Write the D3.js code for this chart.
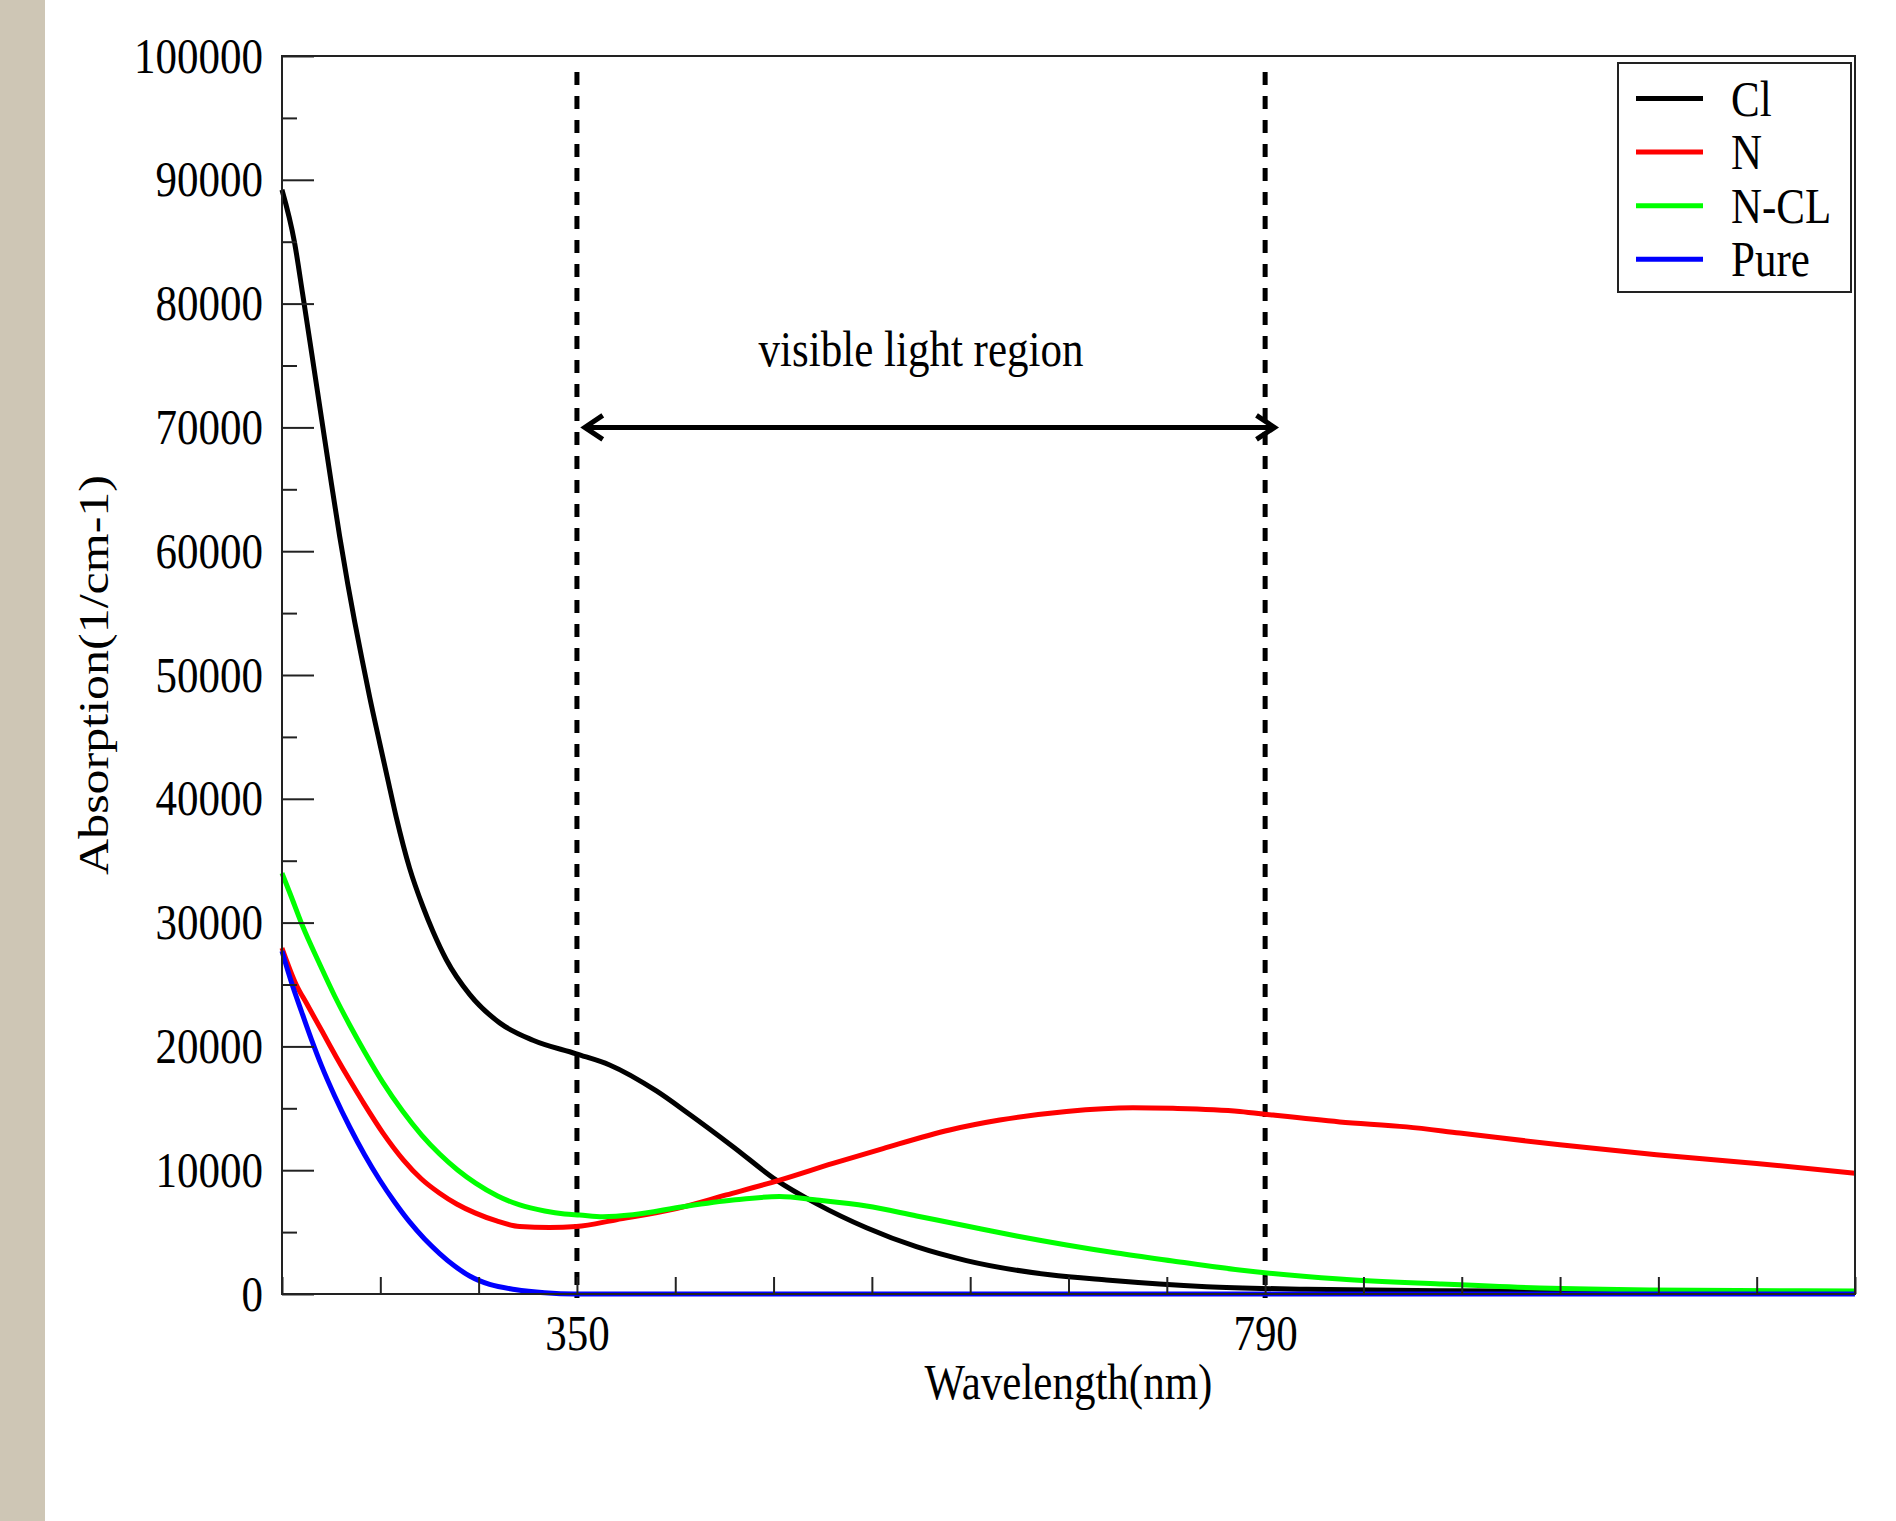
<!DOCTYPE html>
<html>
<head>
<meta charset="utf-8">
<script src="https://cdn.jsdelivr.net/npm/d3@7"></script>
<style>
    body { margin: 0; background: #fff; }
    #sidebar { position: absolute; left: 0; top: 0; width: 45px; height: 1521px; background: #cec6b5; }
    text { font-family: 'Liberation Serif', 'Times New Roman', serif; fill: #000; }
</style>
</head>
<body>
<div id="sidebar"></div>
<svg id="canvas" width="1896" height="1521" style="position:absolute;left:0;top:0"></svg>
<script>
// wavelength (nm) / absorption (1/cm)
let clWave = [161.4, 169.5, 174.6, 180.4, 186.8, 193.1, 198.3, 203.4, 207.9, 212.4, 217.5, 223.9, 229.0, 234.5, 243.0, 251.5, 257.9, 266.5, 281.4, 300.6, 321.9, 349.6, 370.9, 400.8, 422.1, 449.8, 477.5, 503.1, 535.1, 567.0, 599.0, 652.3, 688.5, 752.5, 816.4, 901.6, 948.3, 1050, 1167.1]
let clAbs = [89200, 84900, 80800, 76000, 70650, 65400, 61200, 57400, 54300, 51400, 48200, 44500, 41600, 38500, 34400, 31300, 29300, 27000, 24200, 21900, 20500, 19400, 18500, 16400, 14500, 11900, 9200, 7300, 5350, 3820, 2700, 1550, 1130, 590, 380, 270, 250, 180, 100]

let nWave = [161.4, 170.6, 177.0, 186.6, 196.1, 204.7, 213.2, 226.0, 239.1, 250.6, 262.0, 273.1, 284.8, 298.7, 313.4, 332.5, 349.6, 375.2, 413.6, 445.5, 479.6, 513.7, 545.7, 588.3, 620.3, 663.0, 705.5, 731.1, 773.8, 795.1, 837.7, 880.4, 914.4, 978.4, 1040.2, 1104.2, 1167.1]
let nAbs = [27950, 24960, 23500, 21320, 19150, 17280, 15510, 13000, 10820, 9290, 8160, 7270, 6550, 5900, 5450, 5370, 5450, 6000, 6900, 8000, 9200, 10550, 11750, 13250, 14050, 14750, 15050, 15000, 14750, 14450, 13900, 13500, 13000, 12050, 11250, 10550, 9750]

let nclWave = [161.4, 166.7, 174.6, 185.5, 195.1, 204.7, 214.3, 225.8, 238.5, 250.7, 262.2, 273.7, 285.2, 299.3, 313.4, 329.4, 342.1, 351.7, 366.6, 385.8, 417.8, 449.8, 479.5, 503.3, 535.2, 567.2, 599.2, 631.1, 663.1, 695.1, 730.9, 773.7, 837.7, 901.6, 965.6, 1035.9, 1167.1]
let nclAbs = [34000, 32310, 29720, 26650, 24070, 21730, 19550, 17120, 14780, 12840, 11310, 10020, 8960, 7920, 7190, 6700, 6460, 6380, 6250, 6400, 7050, 7590, 7870, 7590, 7110, 6300, 5490, 4690, 3960, 3310, 2670, 1940, 1210, 810, 490, 330, 240]

let pureWave = [161.4, 167.6, 174.0, 180.4, 186.8, 195.1, 204.7, 214.3, 223.9, 233.4, 243.0, 252.6, 262.2, 271.8, 281.4, 294.2, 310.2, 329.4, 348.5, 1167.1]
let pureAbs = [27700, 25120, 22780, 20510, 18410, 16000, 13490, 11230, 9210, 7430, 5820, 4440, 3270, 2260, 1450, 770, 370, 100, 0, 0]

let seriesNames = ['Cl', 'N', 'N-CL', 'Pure']
let seriesColors = ['#000000', '#ff0000', '#00ff00', '#0000ff']

let xDomain = [350 - 3 * 440 / 7, 790 + 6 * 440 / 7]
let xTickValues = d3.range(-3, 14).map(k => 350 + k * 440 / 7)
let xTickLabels = [350, 790]
let yMajorTicks = d3.range(0, 100001, 10000)
let yMinorTicks = d3.range(5000, 100000, 10000)

let visibleEdges = [350, 790]
let arrowRange = [355, 796]
let arrowLevel = 70000
let annotation = 'visible light region'

let margin = { left: 282, top: 56, width: 1573, height: 1238 }
let squash = 0.86

let canvas = d3.select('#canvas')
let plot = canvas.append('g').attr('transform', `translate(${margin.left},${margin.top})`)

let xScale = d3.scaleLinear().domain(xDomain).range([0, margin.width])
let yScale = d3.scaleLinear().domain([0, 100000]).range([margin.height, 0])

// dashed markers of the visible region (under the curves)
plot.selectAll('line.edge')
    .data(visibleEdges)
    .enter()
    .append('line')
    .attr('class', 'edge')
    .attr('x1', d => xScale(d))
    .attr('x2', d => xScale(d))
    .attr('y1', 16)
    .attr('y2', margin.height + 4)
    .attr('stroke', '#000')
    .attr('stroke-width', 5)
    .attr('stroke-dasharray', '13,11')

// curves
let seriesData = [
    d3.zip(clWave, clAbs),
    d3.zip(nWave, nAbs),
    d3.zip(nclWave, nclAbs),
    d3.zip(pureWave, pureAbs)
]
let line = d3.line()
    .x(d => xScale(d[0]))
    .y(d => yScale(d[1]))
    .curve(d3.curveMonotoneX)

plot.selectAll('path.series')
    .data(seriesData)
    .enter()
    .append('path')
    .attr('class', 'series')
    .attr('d', line)
    .attr('fill', 'none')
    .attr('stroke', (d, i) => seriesColors[i])
    .attr('stroke-width', 5)
    .attr('stroke-linejoin', 'round')

// axes
let xAxis = d3.axisBottom(xScale)
    .tickValues(xTickValues)
    .tickSize(-17)
    .tickPadding(21)
    .tickFormat(d => {
        let hit = xTickLabels.find(v => Math.abs(v - d) < 0.01)
        return hit === undefined ? '' : hit
    })
let xg = plot.append('g')
    .attr('transform', `translate(0,${margin.height})`)
    .call(xAxis)

let yAxis = d3.axisLeft(yScale)
    .tickValues(yMajorTicks)
    .tickSize(-32)
    .tickPadding(22)
    .tickFormat(d3.format('d'))
let yg = plot.append('g').call(yAxis)

let yMinor = d3.axisLeft(yScale)
    .tickValues(yMinorTicks)
    .tickSize(-15)
    .tickFormat('')
let ymg = plot.append('g').call(yMinor)

;[xg, yg, ymg].forEach(g => {
    g.select('.domain').remove()
    g.selectAll('line').attr('stroke', '#222').attr('stroke-width', 2)
    g.selectAll('text')
        .attr('font-size', 50)
        .attr('fill', '#000')
        .attr('font-family', "'Liberation Serif', serif")
        .attr('transform', `scale(${squash},1)`)
})

// frame
plot.append('rect')
    .attr('width', margin.width)
    .attr('height', margin.height)
    .attr('fill', 'none')
    .attr('stroke', '#222')
    .attr('stroke-width', 2)

// axis titles
canvas.append('text')
    .attr('transform', `translate(${margin.left + margin.width / 2},1399) scale(${squash},1)`)
    .attr('text-anchor', 'middle')
    .attr('font-size', 50)
    .text('Wavelength(nm)')

canvas.append('text')
    .attr('transform', `translate(108,${margin.top + margin.height / 2}) rotate(-90) scale(1,${squash})`)
    .attr('text-anchor', 'middle')
    .attr('font-size', 50)
    .text('Absorption(1/cm-1)')

// double arrow + label
let ay = yScale(arrowLevel)
let ax0 = xScale(arrowRange[0])
let ax1 = xScale(arrowRange[1])
plot.append('line')
    .attr('x1', ax0 + 2).attr('x2', ax1 - 2)
    .attr('y1', ay).attr('y2', ay)
    .attr('stroke', '#000')
    .attr('stroke-width', 5)
plot.append('path')
    .attr('d', `M${ax0 + 18},${ay - 12}L${ax0},${ay}L${ax0 + 18},${ay + 12}`)
    .attr('fill', 'none').attr('stroke', '#000').attr('stroke-width', 5)
plot.append('path')
    .attr('d', `M${ax1 - 18},${ay - 12}L${ax1},${ay}L${ax1 - 18},${ay + 12}`)
    .attr('fill', 'none').attr('stroke', '#000').attr('stroke-width', 5)

plot.append('text')
    .attr('transform', `translate(${(xScale(visibleEdges[0]) + xScale(visibleEdges[1])) / 2},${ay - 61}) scale(${squash},1)`)
    .attr('text-anchor', 'middle')
    .attr('font-size', 50)
    .text(annotation)

// legend
let legend = canvas.append('g').attr('transform', 'translate(1618,63)')
legend.append('rect')
    .attr('width', 233)
    .attr('height', 229)
    .attr('fill', '#fff')
    .attr('stroke', '#222')
    .attr('stroke-width', 2)

let rows = legend.selectAll('g.row')
    .data(seriesNames)
    .enter()
    .append('g')
    .attr('class', 'row')
    .attr('transform', (d, i) => `translate(0,${35.5 + i * 53.6})`)

rows.append('line')
    .attr('x1', 18).attr('x2', 85)
    .attr('stroke', (d, i) => seriesColors[i])
    .attr('stroke-width', 5)

rows.append('text')
    .attr('transform', `translate(113,0) scale(${squash},1)`)
    .attr('dy', '0.34em')
    .attr('font-size', 50)
    .text(d => d)
</script>
</body>
</html>
